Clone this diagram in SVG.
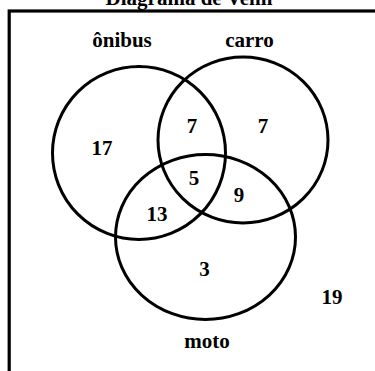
<svg xmlns="http://www.w3.org/2000/svg" width="375" height="371" viewBox="0 0 375 371">
<style>
text{font-family:"Liberation Serif","Times New Roman",serif;font-weight:bold;font-size:21px;fill:#000;text-anchor:middle}
.set{fill:none;stroke:#000;stroke-width:3}
</style>
<rect width="375" height="371" fill="#fff"/>
<text id="title" x="189" y="5">Diagrama de Venn</text>
<rect id="frame" x="9.2" y="11" width="380" height="380" fill="none" stroke="#000" stroke-width="3.2"/>
<g id="onibus">
<circle class="set" cx="139" cy="153" r="86.5"/>
<text x="122" y="47">ônibus</text>
</g>
<g id="carro">
<ellipse class="set" cx="243" cy="140" rx="85" ry="83"/>
<text x="249.5" y="47">carro</text>
</g>
<g id="moto">
<ellipse class="set" cx="205.5" cy="237" rx="90" ry="82.5"/>
<text x="207" y="348">moto</text>
</g>
<g id="connectors"></g>
<g id="values">
<text x="102" y="155">17</text>
<text x="192" y="133">7</text>
<text x="263" y="133">7</text>
<text x="194" y="185">5</text>
<text x="239" y="202">9</text>
<text x="157" y="221">13</text>
<text x="204.5" y="276">3</text>
<text x="332" y="304">19</text>
</g>
</svg>
